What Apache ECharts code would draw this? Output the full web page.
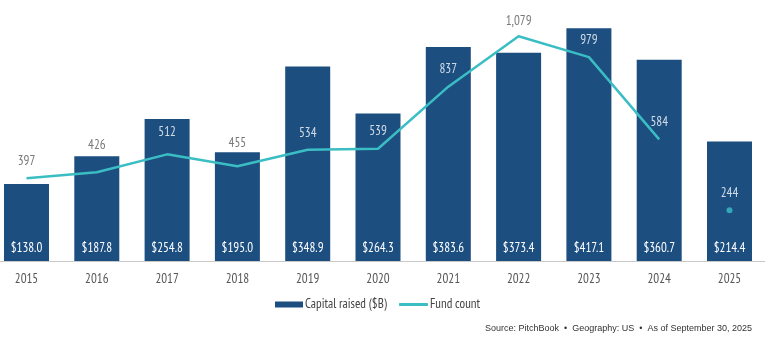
<!DOCTYPE html>
<html><head><meta charset="utf-8">
<script src="https://cdn.jsdelivr.net/npm/echarts@6/dist/echarts.min.js"></script>
<style>html,body{margin:0;padding:0;background:#fff;overflow:hidden;width:768px;height:349px;position:relative}#c{position:absolute;left:-20px;top:0;width:788px;height:349px}</style>
</head><body><div id="c"></div>
<script>
const categories = ['2015','2016','2017','2018','2019','2020','2021','2022','2023','2024','2025'];
const capitalRaised = [138.0,187.8,254.8,195.0,348.9,264.3,383.6,373.4,417.1,360.7,214.4];
const fundCount = [397,426,512,455,534,539,837,1079,979,584,244];
const lineEndIndex = 9; // 2025 shown as separate dot
const outsideLabels = [0,1,3,7]; // labels drawn above bars in grey
const extraOffset = {1:10,2:5,3:6,7:-2};

const FONT = '"PT Sans Narrow","Archivo Narrow","DejaVu Sans Condensed",sans-serif';
const BAR = '#1c4e80', LINE = '#3bbdc4';
const SHIFT = 20; // container is shifted left by this much

const lineData = fundCount.map((v,i)=> i>lineEndIndex ? '-' : v);
const labelData = fundCount.map((v,i)=>({value:v,
  label:{color: outsideLabels.includes(i)?'#555':'#fff', offset:[0,-(extraOffset[i]||0)]}}));
const dotData = fundCount.map((v,i)=> i>lineEndIndex ? v : '-');

const legendText = {fontFamily:FONT,fontSize:13,color:'#444',padding:[0,0,0,-3]};

const chart = echarts.init(document.getElementById('c'));
chart.setOption({
  animation:false,
  textStyle:{fontFamily:FONT},
  grid:{left:SHIFT-8.65,right:3.35,top:10,bottom:88,containLabel:false},
  legend:[
    {left:275+SHIFT, top:298, itemWidth:28, itemHeight:6, padding:0, textStyle:legendText,
      data:[{name:'Capital raised ($B)',icon:'rect'}]},
    {left:399+SHIFT, top:298, itemWidth:29, itemHeight:3, padding:0, textStyle:legendText,
      data:[{name:'Fund count',icon:'roundRect'}]}
  ],
  xAxis:{type:'category',data:categories,
    axisLine:{lineStyle:{color:'#c8c8c8',width:1}},axisTick:{show:false},
    axisLabel:{color:'#555',fontSize:13,fontFamily:FONT,margin:12}},
  yAxis:[
    {type:'value',min:0,max:450,show:false,splitLine:{show:false}},
    {type:'value',min:0,max:1205,show:false,splitLine:{show:false}}
  ],
  series:[
    {name:'Capital raised ($B)',type:'bar',data:capitalRaised,barWidth:45,
      itemStyle:{color:BAR},
      label:{show:true,position:'insideBottom',distance:6,color:'#fff',fontSize:13,fontFamily:FONT,
        formatter:p=>'$'+p.value.toFixed(1)}},
    {name:'Fund count',type:'line',yAxisIndex:1,data:lineData,symbol:'none',
      lineStyle:{color:LINE,width:2.5},itemStyle:{color:LINE},z:5},
    {name:'dot',type:'scatter',yAxisIndex:1,data:dotData,symbolSize:6,
      itemStyle:{color:LINE},z:5},
    {name:'labels',type:'scatter',yAxisIndex:1,data:labelData,symbolSize:1,
      itemStyle:{color:'rgba(0,0,0,0)'},z:6,
      label:{show:true,position:'top',distance:10,fontSize:13,fontFamily:FONT,
        formatter:p=>p.value.toLocaleString('en-US')}}
  ],
  graphic:[{type:'text',right:16,top:324,style:{text:'Source: PitchBook  •  Geography: US  •  As of September 30, 2025',
    fill:'#333',fontSize:9,fontFamily:'"Liberation Sans",Arial,sans-serif'}}]
});
</script></body></html>
